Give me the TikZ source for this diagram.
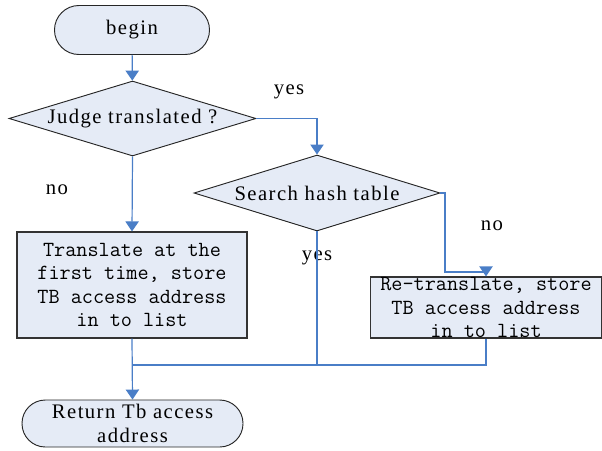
\documentclass[tikz,border=0pt]{standalone}
\usepackage{fontspec}
\setmainfont{Liberation Serif}[LetterSpace=7]
\usetikzlibrary{shapes.geometric,arrows.meta}
\definecolor{linkblue}{HTML}{4A7EC7}
\definecolor{boxfill}{HTML}{E5EBF6}
\begin{document}
\begin{tikzpicture}[x=0.75pt,y=-0.75pt,
  every node/.style={font=\fontsize{15.5}{18}\selectfont},
  terminal/.style={draw=black!85, fill=boxfill, line width=0.7pt, inner sep=0pt, align=center},
  decide/.style={diamond, draw=black!85, fill=boxfill, line width=0.7pt, inner sep=0pt, aspect=3.3},
  procbox/.style={draw=black!80, fill=boxfill, line width=0.9pt, inner sep=0pt, align=center,
    font=\ttfamily\fontsize{16.2}{17.6}\selectfont},
  link/.style={draw=linkblue, line width=0.9pt},
  linkarrow/.style={link, -{Triangle[width=10pt,length=7.5pt]}},
  lbl/.style={inner sep=0pt}]
\useasboundingbox (0,0) rectangle (602,450);
\node[terminal, minimum width=116.25pt, minimum height=36.75pt, rounded corners=18.3pt] (b) at (132,30) {begin};
\node[decide, minimum width=185.25pt, minimum height=56.25pt] (d1) at (132.5,118.5) {Judge translated ?};
\node[decide, minimum width=184.5pt, minimum height=57pt] (d2) at (317,193) {Search hash table};
\node[procbox, minimum width=172.5pt, minimum height=79.5pt] (r1) at (132,285) {Translate at the\\first time, store\\TB access address\\in to list};
\node[procbox, minimum width=173.25pt, minimum height=45.75pt] (r2) at (486,307.5) {Re-translate, store\\TB access address\\in to list};
\node[terminal, minimum width=165.75pt, minimum height=35.25pt, rounded corners=17.5pt] (e) at (132.5,423.5) {Return Tb access\\address};
\node[lbl] (ly1) at (289,92) {yes};
\node[lbl] (ln1) at (57,190) {no};
\node[lbl] (ln2) at (492,226) {no};
\node[lbl] (ly2) at (317,258) {yes};
\coordinate (k1) at (445,272);
\coordinate (m) at (132,365);
\draw[linkarrow] (b) -- (d1);
\draw[linkarrow] (d1.east) -| (d2.north);
\draw[linkarrow] (d1.south) -- (r1.north);
\draw[linkarrow] (d2.east) -| (k1) -| (r2.north);
\draw[link] (d2.south) -- (d2.south |- m);
\draw[link] (r2.south) |- (m);
\draw[linkarrow] (r1.south) -- (e.north);
\end{tikzpicture}
\end{document}
